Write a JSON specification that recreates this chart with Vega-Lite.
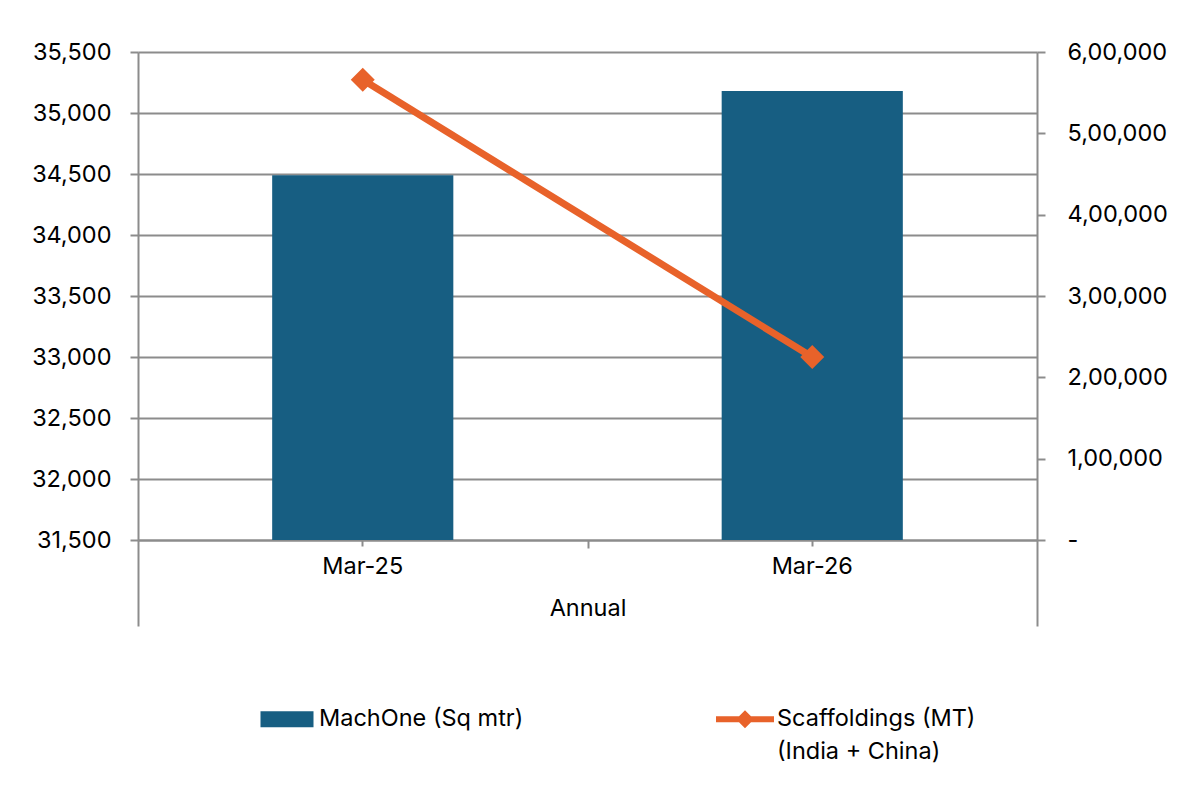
{
  "$schema": "https://vega.github.io/schema/vega-lite/v6.json",
  "width": 899,
  "height": 488,
  "autosize": {"type": "none"},
  "padding": {"left": 138, "top": 52, "right": 146, "bottom": 261},
  "background": "white",
  "config": {
    "font": "Inter",
    "view": {"stroke": null},
    "axis": {
      "labelFont": "Inter", "labelFontSize": 23.5, "labelColor": "#000000",
      "titleFont": "Inter", "titleFontSize": 23.5, "titleFontWeight": "normal", "titleColor": "#000000",
      "domainColor": "#8c8c8c", "domainWidth": 2,
      "tickColor": "#8c8c8c", "tickWidth": 2,
      "gridColor": "#8c8c8c", "gridWidth": 2
    }
  },
  "data": {
    "values": [
      {"period": "Mar-25", "machone": 34490, "scaffold": 565800},
      {"period": "Mar-26", "machone": 35180, "scaffold": 225000}
    ]
  },
  "layer": [
    {
      "mark": {"type": "bar", "width": {"band": 0.403}},
      "encoding": {
        "x": {
          "field": "period", "type": "ordinal",
          "scale": {"paddingInner": 0, "paddingOuter": 0},
          "axis": {"orient": "bottom", "title": "Annual", "labelAngle": 0, "tickSize": 6, "labelPadding": 8, "titlePadding": 19, "grid": false, "domain": true}
        },
        "y": {
          "field": "machone", "type": "quantitative",
          "scale": {"domain": [31500, 35500], "zero": false, "nice": false},
          "axis": {"values": [31500, 32000, 32500, 33000, 33500, 34000, 34500, 35000, 35500], "format": ",d", "title": null, "tickSize": 8, "labelPadding": 19, "grid": true, "domain": true}
        },
        "y2": {"datum": 31500},
        "color": {
          "datum": "MachOne (Sq mtr)",
          "scale": {"domain": ["MachOne (Sq mtr)", "Scaffoldings (MT) (India + China)"], "range": ["#175E82", "#E8622A"]},
          "legend": {
            "orient": "none", "legendX": 120, "legendY": 638, "direction": "horizontal",
            "columnPadding": 192, "symbolSize": 3364, "title": null,
            "labelFont": "Inter", "labelFontSize": 23.5, "labelColor": "#000000", "labelLimit": 500, "labelOffset": 3,
            "labelBaseline": "top",
            "labelExpr": "datum.label == 'Scaffoldings (MT) (India + China)' ? ['Scaffoldings (MT)', '(India + China)'] : [datum.label, ' ']",
            "encode": {
              "symbols": {"update": {
                "shape": {"signal": "datum.value == 'MachOne (Sq mtr)' ? 'M-0.914,-0.276L0.914,-0.276L0.914,0.276L-0.914,0.276Z' : 'M-1,-0.103L1,-0.103L1,0.103L-1,0.103Z M0,-0.31L0.31,0L0,0.31L-0.31,0Z'"},
                "fill": {"signal": "scale('color', datum.value)"},
                "stroke": {"value": "transparent"},
                "strokeWidth": {"value": 0},
                "opacity": {"value": 1}
              }},
              "labels": {"update": {"lineHeight": {"value": 33}, "dy": {"value": -12}}}
            }
          }
        }
      }
    },
    {
      "mark": {"type": "line", "strokeWidth": 7, "point": {"shape": "diamond", "size": 576, "filled": true}},
      "encoding": {
        "x": {
          "field": "period", "type": "ordinal",
          "axis": {"orient": "bottom", "title": null, "labels": false, "domain": false, "grid": false, "tickBand": "extent",
                   "tickSize": {"condition": {"test": "datum.value == 'Mar-25'", "value": 8}, "value": 86}}
        },
        "y": {
          "field": "scaffold", "type": "quantitative",
          "scale": {"domain": [0, 600000], "nice": false},
          "axis": {"orient": "right", "values": [0, 100000, 200000, 300000, 400000, 500000, 600000],
                   "labelExpr": "datum.value == 0 ? '-' : format(datum.value / 100000, 'd') + ',00,000'",
                   "tickSize": 8, "labelPadding": 22, "grid": false, "title": null, "domain": true}
        },
        "color": {"datum": "Scaffoldings (MT) (India + China)"}
      }
    }
  ],
  "resolve": {"scale": {"y": "independent"}, "axis": {"x": "independent"}}
}
